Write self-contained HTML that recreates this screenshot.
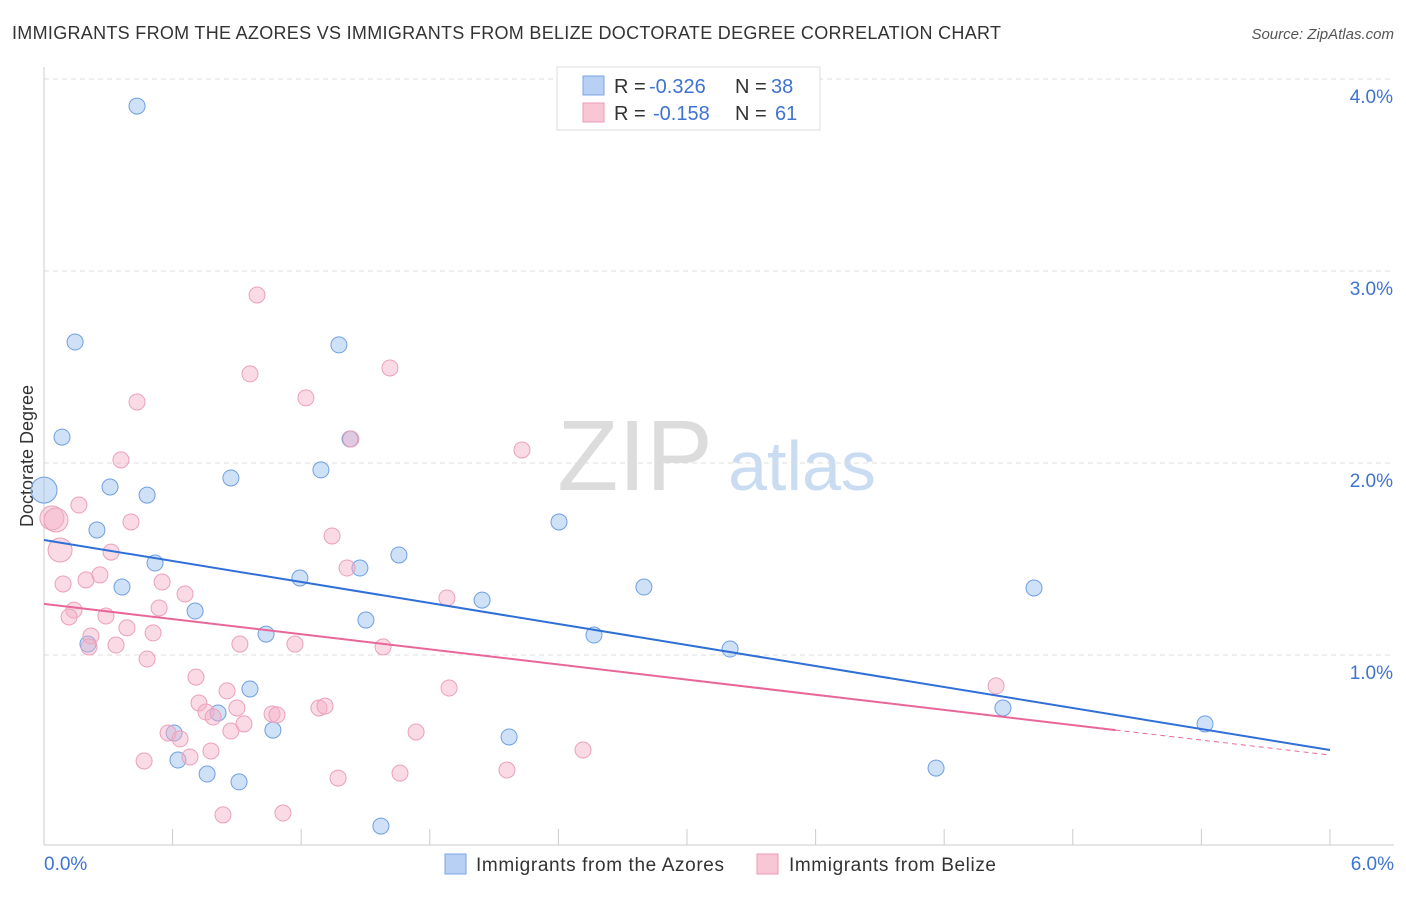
<!DOCTYPE html>
<html><head><meta charset="utf-8"><style>
body{margin:0;background:#fff;font-family:"Liberation Sans",sans-serif;}
svg text{font-family:"Liberation Sans",sans-serif;}
</style></head><body>
<svg id="chart" width="1406" height="892" xmlns="http://www.w3.org/2000/svg">
<text x="12" y="39" font-size="18" fill="#333" textLength="989" lengthAdjust="spacing">IMMIGRANTS FROM THE AZORES VS IMMIGRANTS FROM BELIZE DOCTORATE DEGREE CORRELATION CHART</text>
<text x="1394" y="39" font-size="15" fill="#555" font-style="italic" text-anchor="end">Source: ZipAtlas.com</text>
<text transform="translate(33,456) rotate(-90)" font-size="18" fill="#333" text-anchor="middle">Doctorate Degree</text>
<g>
<text x="635" y="490" font-size="100" fill="#dcdcdc" font-family="Liberation Serif" text-anchor="middle">ZIP</text>
<text x="802" y="490" font-size="70" fill="#c9dcf2" text-anchor="middle">atlas</text>
</g>
<g id="grid"></g>
<g id="axes"></g>
<g id="pts"></g>
<g id="trends"></g>
<g>
<rect x="557" y="67" width="263" height="63" fill="#fff" stroke="#ddd"/>
<rect x="583" y="76" width="21" height="19" fill="#b7d0f3" stroke="#7aa6e6"/>
<rect x="583" y="103" width="21" height="19" fill="#f8c6d5" stroke="#ec9bb6"/>
<text x="614" y="93" font-size="20" fill="#333">R = <tspan x="649" fill="#3f73d1">-0.326</tspan><tspan x="735" fill="#333">N = </tspan><tspan x="771" fill="#3f73d1">38</tspan></text>
<text x="614" y="120" font-size="20" fill="#333">R = <tspan x="653" fill="#3f73d1">-0.158</tspan><tspan x="735" fill="#333">N = </tspan><tspan x="775" fill="#3f73d1">61</tspan></text>
</g>
<g>
<rect x="445" y="854" width="21" height="20" fill="#b7d0f3" stroke="#7aa6e6"/>
<text x="476" y="871" font-size="19" fill="#333" textLength="248" lengthAdjust="spacing">Immigrants from the Azores</text>
<rect x="757" y="854" width="21" height="20" fill="#f8c6d5" stroke="#ec9bb6"/>
<text x="789" y="871" font-size="19" fill="#333" textLength="207" lengthAdjust="spacing">Immigrants from Belize</text>
</g>
</svg>
<script>
const yTicks=[1,2,3,4];
const yTickLabels=["1.0%","2.0%","3.0%","4.0%"];
const xTickCount=10;
const xAxisLabels=["0.0%","6.0%"];
const blueX=[0.434,0.145,0.084,0.0,0.308,0.481,0.247,0.518,0.364,0.705,0.205,1.036,0.872,1.292,1.376,1.428,1.474,1.194,1.502,1.656,2.044,2.403,2.566,2.799,3.201,0.961,0.812,1.068,0.607,0.625,0.761,0.910,2.170,1.572,4.162,4.619,4.474,5.417];
const blueY=[3.859,2.630,2.135,1.859,1.875,1.833,1.651,1.479,1.354,1.229,1.057,1.109,1.922,1.964,2.615,2.125,1.453,1.401,1.182,1.521,1.286,1.693,1.104,1.354,1.031,0.823,0.698,0.609,0.594,0.453,0.380,0.339,0.573,0.109,0.411,1.349,0.724,0.641];
const pinkX=[0.994,0.961,1.614,1.222,0.434,0.359,1.432,2.230,0.163,0.406,0.037,0.056,0.075,0.313,1.344,1.414,0.089,0.196,0.261,0.551,0.658,0.140,0.117,0.289,0.537,0.387,0.509,0.219,0.210,0.336,0.914,1.171,1.582,1.880,0.481,0.709,0.854,0.723,0.756,0.900,0.789,1.064,1.087,1.283,1.311,0.933,0.872,1.890,1.736,0.579,0.635,0.681,0.779,0.467,2.515,1.372,1.661,2.160,0.835,1.115,4.442];
const pinkY=[2.875,2.464,2.495,2.339,2.318,2.016,2.125,2.068,1.781,1.693,1.714,1.703,1.547,1.536,1.620,1.453,1.370,1.391,1.417,1.380,1.318,1.234,1.198,1.203,1.245,1.141,1.115,1.099,1.042,1.052,1.057,1.057,1.042,1.297,0.979,0.885,0.813,0.750,0.703,0.724,0.677,0.693,0.688,0.724,0.734,0.641,0.604,0.828,0.599,0.594,0.563,0.469,0.500,0.448,0.505,0.359,0.385,0.401,0.167,0.177,0.839];
const blueTrendX=[0,6];
const blueTrendY=[1.599,0.505];
const pinkTrendX=[0,5.0,6];
const pinkTrendY=[1.266,0.609,0.479];

const NS="http://www.w3.org/2000/svg";
const xs=v=>44+v*214.33;
const ys=v=>847-v*192;
function mk(tag,attrs,parent){const e=document.createElementNS(NS,tag);for(const k in attrs)e.setAttribute(k,attrs[k]);parent.appendChild(e);return e;}
const grid=document.getElementById('grid'),axes=document.getElementById('axes'),pts=document.getElementById('pts'),tr=document.getElementById('trends');
yTicks.forEach((t,i)=>{
  const l=mk('line',{x1:44,x2:1394,y1:ys(t),y2:ys(t),stroke:'#ddd','stroke-dasharray':'5,4'},grid);
  
  
  const tx=mk('text',{x:1393,y:ys(t)+24,'font-size':19,fill:'#3f73d1','text-anchor':'end'},grid);
  tx.textContent=yTickLabels[i];
  
  
});
const ya=mk('line',{x1:44,x2:44,y1:67,y2:845,stroke:'#ccc'},axes);


const xa=mk('line',{x1:44,x2:1394,y1:845,y2:845,stroke:'#ccc'},axes);


for(let i=0;i<=xTickCount;i++){
  const x=xs(i*0.6);
  const t=mk('line',{x1:x,x2:x,y1:829,y2:845,stroke:'#ccc'},axes);
  
  
}
[[0,'start',44],[1,'end',1394]].forEach(([i,a,x])=>{
  const t=mk('text',{x:x,y:870,'font-size':19,fill:'#3f73d1','text-anchor':a},axes);
  t.textContent=xAxisLabels[i];
  
  
});
blueX.forEach((v,i)=>{
  const r=i===3?13:8;
  const c=mk('circle',{cx:xs(v),cy:ys(blueY[i]),r:r,fill:'rgba(160,195,240,0.5)',stroke:'#6f9fe2','stroke-width':1},pts);
  
  
});
pinkX.forEach((v,i)=>{
  const r=(i===10||i===11||i===12)?12:8;
  const c=mk('circle',{cx:xs(v),cy:ys(pinkY[i]),r:r,fill:'rgba(245,175,198,0.45)',stroke:'#eba0ba','stroke-width':1},pts);
  
  
});
const bl=mk('line',{x1:xs(blueTrendX[0]),y1:ys(blueTrendY[0]),x2:xs(blueTrendX[1]),y2:ys(blueTrendY[1]),stroke:'#2f6fd6','stroke-width':2},tr);


const pl=mk('line',{x1:xs(pinkTrendX[0]),y1:ys(pinkTrendY[0]),x2:xs(pinkTrendX[1]),y2:ys(pinkTrendY[1]),stroke:'#e8679a','stroke-width':2},tr);


const pd=mk('line',{x1:xs(pinkTrendX[1]),y1:ys(pinkTrendY[1]),x2:xs(pinkTrendX[2]),y2:ys(pinkTrendY[2]),stroke:'#e8679a','stroke-width':1,'stroke-dasharray':'5,4'},tr);


</script>
</body></html>
